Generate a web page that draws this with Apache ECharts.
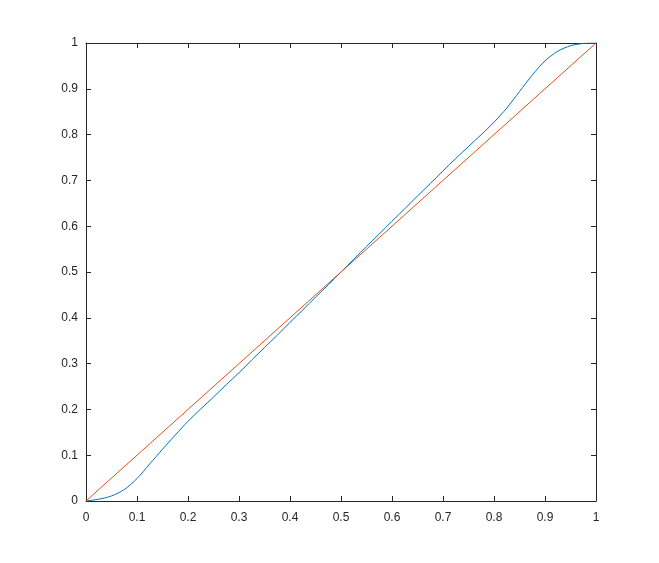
<!DOCTYPE html>
<html>
<head>
<meta charset="utf-8">
<script src="https://cdn.jsdelivr.net/npm/echarts@6/dist/echarts.min.js"></script>
<style>html,body{margin:0;padding:0;background:#fff;}#c{width:659px;height:563px;}</style>
</head>
<body>
<div id="c"></div>
<script>
const xValues = [0, 0.025, 0.05, 0.075, 0.1, 0.125, 0.15, 0.175, 0.2, 0.225, 0.25, 0.275, 0.3, 0.325, 0.35, 0.375, 0.4, 0.425, 0.45, 0.475, 0.5,
                 0.525, 0.55, 0.575, 0.6, 0.625, 0.65, 0.675, 0.7, 0.725, 0.75, 0.775, 0.8, 0.825, 0.85, 0.875, 0.9, 0.925, 0.95, 0.975, 1];
const curveValues = [0, 0.004, 0.011, 0.025, 0.049, 0.081, 0.113, 0.144, 0.174, 0.201, 0.227, 0.254, 0.280, 0.308, 0.335, 0.362, 0.390, 0.417, 0.445, 0.472, 0.5,
                     0.528, 0.556, 0.583, 0.611, 0.638, 0.666, 0.693, 0.721, 0.748, 0.774, 0.800, 0.827, 0.858, 0.894, 0.930, 0.961, 0.982, 0.994, 0.999, 1];
const diagX = [0, 1];
const diagY = [0, 1];
const tickLabels = ['0', '0.1', '0.2', '0.3', '0.4', '0.5', '0.6', '0.7', '0.8', '0.9', '1'];

const chart = echarts.init(document.getElementById('c'));
const axisCol = '#262626';
const font = 'Liberation Sans, Arial, sans-serif';
function fmt(v){ const i = Math.round(v*10); return tickLabels[i] !== undefined ? tickLabels[i] : ''; }
const baseAxis = {
  type: 'value', min: 0, max: 1, interval: 0.1,
  axisLine: {show: true, onZero: false, lineStyle: {color: axisCol, width: 1}},
  axisTick: {show: true, inside: true, length: 5, lineStyle: {color: axisCol, width: 1}},
  splitLine: {show: false}
};
chart.setOption({
  animation: false,
  backgroundColor: '#ffffff',
  grid: {left: 86, right: 63, top: 43, bottom: 62, containLabel: false},
  xAxis: [
    Object.assign({}, baseAxis, {position: 'bottom',
      axisLabel: {show: true, color: axisCol, fontSize: 12, fontFamily: font, margin: 11, formatter: fmt}}),
    Object.assign({}, baseAxis, {position: 'top', axisLabel: {show: false}})
  ],
  yAxis: [
    Object.assign({}, baseAxis, {position: 'left',
      axisLabel: {show: true, color: axisCol, fontSize: 12, fontFamily: font, margin: 8, formatter: fmt}}),
    Object.assign({}, baseAxis, {position: 'right', axisLabel: {show: false}})
  ],
  series: [
    {type: 'line', xAxisIndex: 0, yAxisIndex: 0, data: xValues.map((x, i) => [x, curveValues[i]]),
     smooth: 0.3, showSymbol: false, lineStyle: {color: '#0072BD', width: 1}},
    {type: 'line', xAxisIndex: 0, yAxisIndex: 0, data: diagX.map((x, i) => [x, diagY[i]]),
     showSymbol: false, lineStyle: {color: '#D95319', width: 1}}
  ]
});
</script>
</body>
</html>
